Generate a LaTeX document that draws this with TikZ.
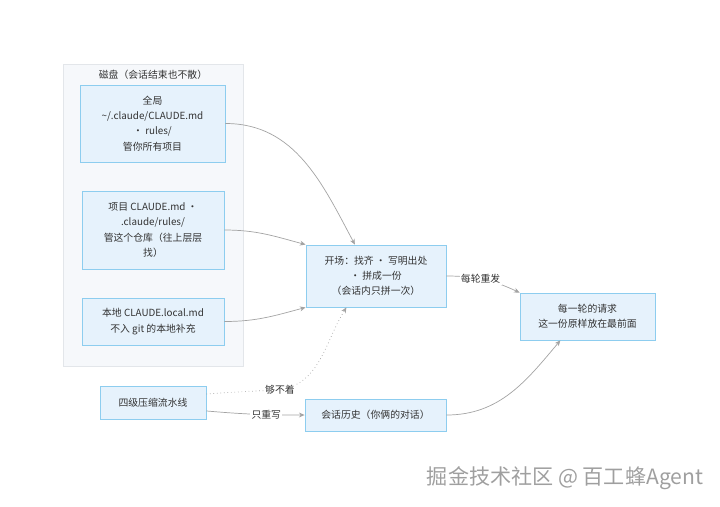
\documentclass[tikz,border=0pt]{standalone}
\usepackage{fontspec}
\setmainfont{Noto Sans CJK SC}
\usepackage{xcolor}
\usetikzlibrary{calc,arrows.meta}

\definecolor{boxfill}{HTML}{E6F2FC}
\definecolor{boxline}{HTML}{8DCDEF}
\definecolor{groupfill}{HTML}{F6F8FB}
\definecolor{groupline}{HTML}{E3E6EA}
\definecolor{edgecol}{HTML}{A3A3A3}
\definecolor{textcol}{HTML}{333333}

\begin{document}
\begin{tikzpicture}[x=0.025cm,y=-0.025cm,>={Stealth[length=4pt,width=3.5pt]},
  every node/.style={font=\fontsize{7}{10.8}\selectfont,text=textcol},
  box/.style={draw=boxline,fill=boxfill,line width=0.6pt,align=center,inner sep=2pt},
  edge/.style={draw=edgecol,line width=0.5pt,->},
  lbl/.style={fill=white,inner sep=1pt}]
  \useasboundingbox (0,0) rectangle (720,506);

  % Disk group (everything that survives the session)
  \draw[fill=groupfill,draw=groupline,line width=0.5pt] (63,64) rectangle (243,366);
  \node[anchor=north] (disktitle) at (153,65) {磁盘（会话结束也不散）};

  % Memory files on disk
  \node[box,minimum width=3.625cm,minimum height=1.925cm] (glob) at (152.5,123.5)
    {全局\\\textasciitilde/.claude/CLAUDE.md\\· rules/\\管你所有项目};
  \node[box,minimum width=3.55cm,minimum height=1.95cm] (proj) at (153,230)
    {项目 CLAUDE.md ·\\.claude/rules/\\管这个仓库（往上层层\\找）};
  \node[box,minimum width=3.55cm,minimum height=1.175cm] (local) at (153,321.5)
    {本地 CLAUDE.local.md\\不入 git 的本地补充};

  % Assembly and request
  \node[box,minimum width=3.5cm,minimum height=1.55cm] (open) at (376,276)
    {开场：找齐 · 写明出处\\· 拼成一份\\（会话内只拼一次）};
  \node[box,minimum width=3.375cm,minimum height=1.175cm] (req) at (587.5,316.5)
    {每一轮的请求\\这一份原样放在最前面};

  % Compression and history
  \node[box,minimum width=2.65cm,minimum height=0.825cm] (pipe) at (153,402.5) {四级压缩流水线};
  \node[box,minimum width=3.525cm,minimum height=0.8cm] (hist) at (375.5,415) {会话历史（你俩的对话）};

  % Points on the box edges where arrows land
  \coordinate (openA) at ($(open.north west)!0.35!(open.north east)$);
  \coordinate (openB) at ($(open.south west)!0.29!(open.south east)$);
  \coordinate (reqB) at ($(req.south west)!0.3!(req.south east)$);
  \coordinate (reach) at (280,390); % where the dotted line bends

  % Connectors
  \draw[edge] (glob.east) to[out=0,in=118] (openA);
  \draw[edge] (proj.east) to[out=0,in=165] (open.north west);
  \draw[edge] (local.east) to[out=0,in=195] (open.south west);
  \draw[edge,dotted] (pipe.9) to[out=4,in=182] (reach) to[out=10,in=238] (openB);
  \node[lbl] (reachlbl) at (reach) {够不着};
  \draw[edge] (pipe.-9) to[out=-5,in=180] node[lbl,pos=0.62] {只重写} (hist.west);
  \draw[edge] (open.east) to[out=0,in=155] node[lbl,pos=0.45] {每轮重发} (req.north west);
  \draw[edge] (hist.east) to[out=0,in=230] (reqB);

  % Watermark
  \node[font=\fontsize{15}{17}\selectfont,text=gray!75] (mark) at (565,478) {掘金技术社区 @ 百工蜂Agent};

\end{tikzpicture}
\end{document}
